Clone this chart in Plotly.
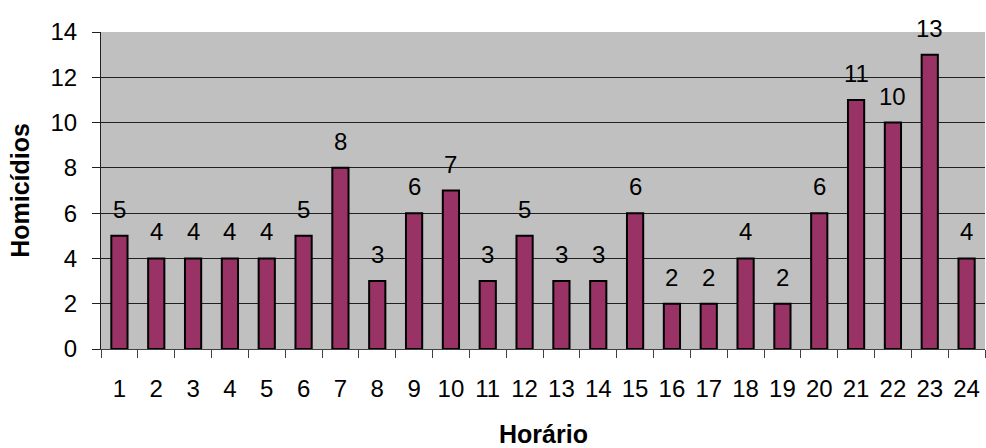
import plotly.graph_objects as go

# Homicides by hour of day
horarios = [str(h) for h in range(1, 25)]
homicidios = [5, 4, 4, 4, 4, 5, 8, 3, 6, 7, 3, 5, 3, 3, 6, 2, 2, 4, 2, 6, 11, 10, 13, 4]
y_ticks = [0, 2, 4, 6, 8, 10, 12, 14]

FONT = "Arial, Liberation Sans, sans-serif"
BAR_COLOR = "#993366"

fig = go.Figure()
fig.add_trace(go.Bar(
    x=horarios,
    y=homicidios,
    marker=dict(color=BAR_COLOR, line=dict(color="black", width=2)),
    hoverinfo="x+y",
))

# value labels above each bar (category axis positions are indices)
for i, v in enumerate(homicidios):
    fig.add_annotation(
        x=i, y=v, text=str(v), showarrow=False,
        yanchor="bottom", yshift=11,
        font=dict(family=FONT, size=24, color="black"),
    )

# x-axis title placed below the tick labels
fig.add_annotation(
    x=0.5, xref="paper", y=-0.268, yref="paper",
    text="<b>Horário</b>", showarrow=False,
    xanchor="center", yanchor="middle",
    font=dict(family=FONT, size=25, color="black"),
)

fig.update_layout(
    width=986, height=448,
    margin=dict(l=101, r=1, t=32, b=99),
    paper_bgcolor="white",
    plot_bgcolor="#C0C0C0",
    bargap=0.56,
    showlegend=False,
    font=dict(family=FONT, size=24, color="black"),
)

fig.update_xaxes(
    type="category",
    range=[-0.5, 23.5],
    tickson="boundaries",
    ticks="outside", ticklen=8, tickcolor="#404040", tickwidth=1,
    ticklabelstandoff=18,
    showgrid=False,
    showline=True, linecolor="#404040", linewidth=1,
    tickfont=dict(family=FONT, size=24),
    automargin=False,
    fixedrange=True,
)

fig.update_yaxes(
    range=[0, 14],
    tickvals=y_ticks,
    ticks="outside", ticklen=8, tickcolor="#202020", tickwidth=1,
    ticklabelstandoff=10,
    showgrid=True, gridcolor="#202020", gridwidth=1,
    showline=True, linecolor="#202020", linewidth=1,
    zeroline=False,
    tickfont=dict(family=FONT, size=24),
    title=dict(text="<b>Homicídios</b>", font=dict(family=FONT, size=25), standoff=13),
    automargin=False,
    fixedrange=True,
)

fig.write_html("out.html")
